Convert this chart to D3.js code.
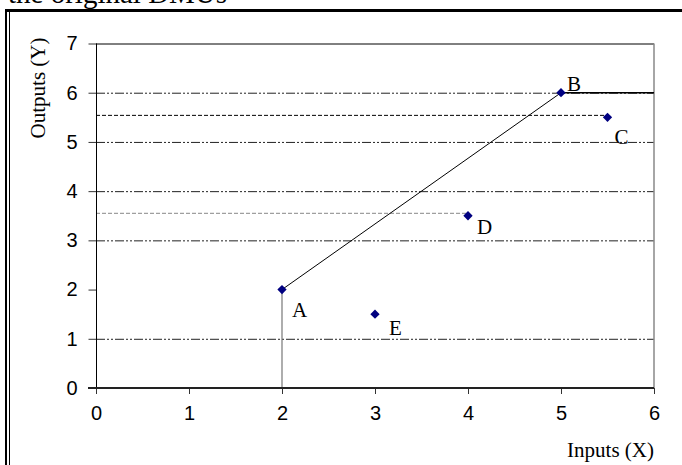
<!DOCTYPE html>
<html>
<head>
<meta charset="utf-8">
<script src="https://cdn.jsdelivr.net/npm/d3@7"></script>
<style>
  html, body { margin: 0; padding: 0; background: #fff; }
  svg { display: block; }
</style>
</head>
<body>
<script>
// DMU observations: one input, one output
const dmuNames = ["A", "B", "C", "D", "E"];
const dmuInputs = [2, 5, 5.5, 4, 3];
const dmuOutputs = [2, 6, 5.5, 3.5, 1.5];

// Piecewise frontier through the efficient units
const frontierInputs = [2, 2, 5, 6];
const frontierOutputs = [0, 2, 6, 6];

// Horizontal reference levels for C and D
const refLevels = [5.55, 3.56];
const refEnds = [5.5, 4];

// Axis ticks and gridline levels
const xTickValues = [0, 1, 2, 3, 4, 5, 6];
const yTickValues = [0, 1, 2, 3, 4, 5, 6, 7];
const gridLevels = [1, 3, 4, 5, 6];

const W = 682, H = 465;
const plot = { left: 96, right: 654, top: 43.5, bottom: 388 };

const svg = d3.select("body").append("svg")
  .attr("width", W).attr("height", H);

svg.append("rect").attr("width", W).attr("height", H).attr("fill", "#fff");

// Caption text partly above the frame
svg.append("text")
  .attr("x", 8).attr("y", 3)
  .attr("font-family", "'Liberation Serif', 'Times New Roman', serif")
  .attr("font-size", 29)
  .attr("fill", "#000")
  .text("the original DMUs");

// Outer frame: heavy top rule and double left rule
svg.append("line").attr("x1", 5).attr("x2", W).attr("y1", 10.5).attr("y2", 10.5)
  .attr("stroke", "#000").attr("stroke-width", 3);
svg.append("line").attr("x1", 6).attr("x2", 6).attr("y1", 9).attr("y2", H)
  .attr("stroke", "#000").attr("stroke-width", 2);
svg.append("line").attr("x1", 9.5).attr("x2", 9.5).attr("y1", 12).attr("y2", H)
  .attr("stroke", "#000").attr("stroke-width", 1);

const x = d3.scaleLinear().domain([0, 6]).range([plot.left, plot.right]);
const y = d3.scaleLinear().domain([0, 7]).range([plot.bottom, plot.top]);

// Gridlines (dash-dot-dot)
svg.append("g").selectAll("line").data(gridLevels).join("line")
  .attr("x1", x(0)).attr("x2", x(6))
  .attr("y1", d => y(d) + 0.5).attr("y2", d => y(d) + 0.5)
  .attr("stroke", "#222").attr("stroke-width", 1)
  .attr("stroke-dasharray", "9,2,2,2,2,2");

// Reference level lines for C (black) and D (grey)
const refColors = ["#000", "#888"];
svg.append("g").selectAll("line").data(refLevels).join("line")
  .attr("x1", x(0)).attr("x2", (d, i) => x(refEnds[i]))
  .attr("y1", d => y(d) + 0.5).attr("y2", d => y(d) + 0.5)
  .attr("stroke", (d, i) => refColors[i]).attr("stroke-width", 1)
  .attr("stroke-dasharray", "4,2");

// Top and right plot borders
svg.append("line").attr("x1", x(0)).attr("x2", x(6)).attr("y1", y(7) + 0.5).attr("y2", y(7) + 0.5)
  .attr("stroke", "#000").attr("stroke-width", 1);
svg.append("line").attr("x1", x(6)).attr("x2", x(6)).attr("y1", y(7)).attr("y2", y(0))
  .attr("stroke", "#888").attr("stroke-width", 1.5);

// Frontier segments
const fPts = frontierInputs.map((v, i) => [v, frontierOutputs[i]]);
const segStyles = [
  { stroke: "#777", width: 1.2 },
  { stroke: "#000", width: 1 },
  { stroke: "#000", width: 1.6 }
];
svg.append("g").selectAll("line").data(d3.range(fPts.length - 1)).join("line")
  .attr("x1", i => x(fPts[i][0])).attr("y1", i => y(fPts[i][1]))
  .attr("x2", i => x(fPts[i + 1][0])).attr("y2", i => y(fPts[i + 1][1]))
  .attr("stroke", i => segStyles[i].stroke)
  .attr("stroke-width", i => segStyles[i].width);

// Axes
const yAxis = d3.axisLeft(y).tickValues(yTickValues).tickSize(8).tickPadding(11)
  .tickFormat(d3.format("d"));
const gy = svg.append("g").attr("transform", `translate(${x(0) + 0.5},0)`).call(yAxis);
gy.select(".domain").remove();
gy.append("line").attr("x1", 0).attr("x2", 0).attr("y1", y(7)).attr("y2", y(0))
  .attr("stroke", "#000").attr("stroke-width", 1);

const xAxis = d3.axisBottom(x).tickValues(xTickValues).tickSize(6).tickPadding(22)
  .tickFormat(d3.format("d"));
const gx = svg.append("g").attr("transform", `translate(0,${y(0)})`).call(xAxis);
gx.select(".domain").remove();
gx.append("line").attr("x1", x(0) - 8).attr("x2", x(6)).attr("y1", 0).attr("y2", 0)
  .attr("stroke", "#222").attr("stroke-width", 2.2);

[gx, gy].forEach(g => {
  g.selectAll(".tick line").attr("stroke", "#333");
  g.selectAll(".tick text")
    .attr("font-family", "'Liberation Sans', Arial, sans-serif")
    .attr("font-size", 20)
    .attr("fill", "#000");
});
gx.selectAll(".tick text").attr("dy", "0.2em");

// Axis titles
svg.append("text")
  .attr("transform", `translate(45,${88}) rotate(-90)`)
  .attr("text-anchor", "middle")
  .attr("font-family", "'Liberation Serif', 'Times New Roman', serif")
  .attr("font-size", 21)
  .text("Outputs (Y)");

svg.append("text")
  .attr("x", 654).attr("y", 457)
  .attr("text-anchor", "end")
  .attr("font-family", "'Liberation Serif', 'Times New Roman', serif")
  .attr("font-size", 21)
  .text("Inputs (X)");

// DMU markers
const diamond = d3.symbol().type(d3.symbolDiamond2).size(55);
svg.append("g").selectAll("path").data(dmuNames).join("path")
  .attr("transform", (d, i) => `translate(${x(dmuInputs[i])},${y(dmuOutputs[i])})`)
  .attr("d", diamond)
  .attr("fill", "#000080");

// DMU labels (offset from each marker)
const labelDx = [10, 6, 7, 9, 14];
const labelDy = [27, -2, 27, 18, 21];
svg.append("g").selectAll("text").data(dmuNames).join("text")
  .attr("x", (d, i) => x(dmuInputs[i]) + labelDx[i])
  .attr("y", (d, i) => y(dmuOutputs[i]) + labelDy[i])
  .attr("font-family", "'Liberation Serif', 'Times New Roman', serif")
  .attr("font-size", 21)
  .attr("fill", "#000")
  .text(d => d);
</script>
</body>
</html>
